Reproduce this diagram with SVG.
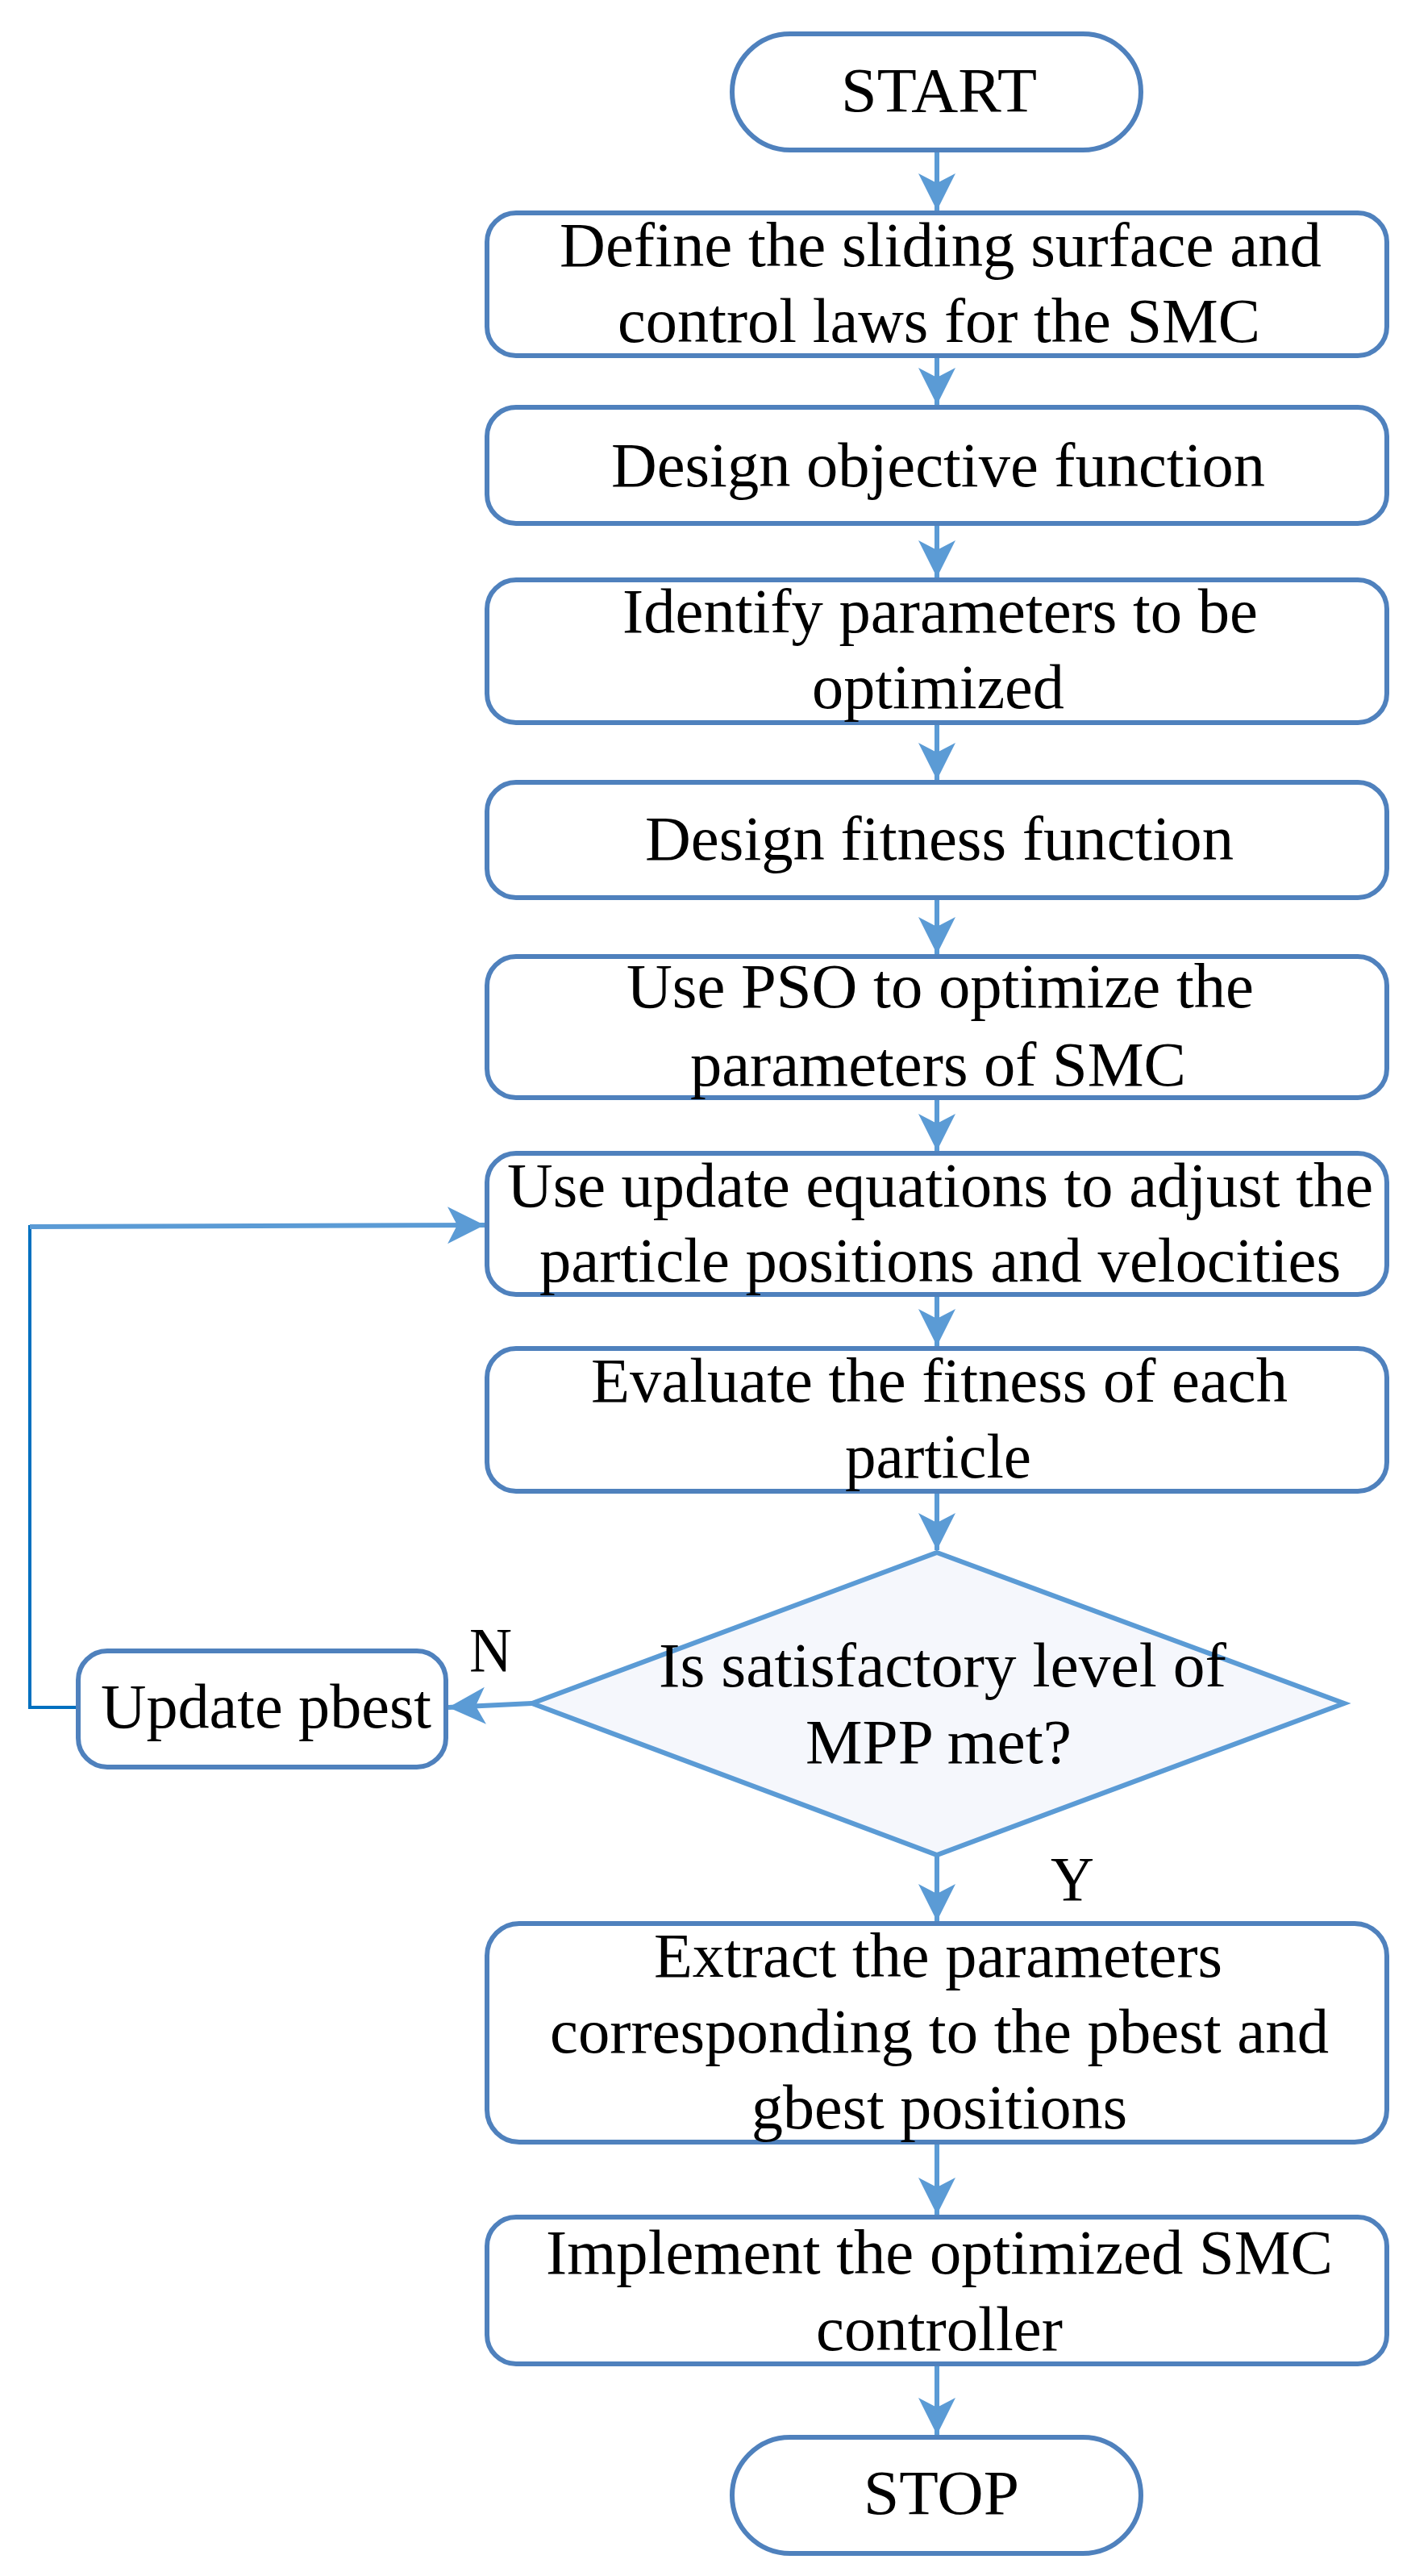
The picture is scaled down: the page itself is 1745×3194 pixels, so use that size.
<svg xmlns="http://www.w3.org/2000/svg" width="1745" height="3194" viewBox="0 0 1745 3194">
<style>
.b{fill:#fff;stroke:#4F81BD;stroke-width:6}
.t{font-family:"Liberation Serif",serif;font-size:78px;fill:#000}
.c{stroke:#5B9BD5;stroke-width:6;fill:none}
</style>
<defs>
<marker id="a" markerUnits="userSpaceOnUse" markerWidth="50" markerHeight="46" refX="46" refY="23" orient="auto">
<path d="M0,0 L46,23 L0,46 L12,23 Z" fill="#5B9BD5"/>
</marker>
</defs>
<g id="connectors">
<line class="c" x1="1162" y1="186" x2="1162" y2="261" marker-end="url(#a)"/>
<line class="c" x1="1162" y1="441" x2="1162" y2="502" marker-end="url(#a)"/>
<line class="c" x1="1162" y1="649" x2="1162" y2="716" marker-end="url(#a)"/>
<line class="c" x1="1162" y1="896" x2="1162" y2="967" marker-end="url(#a)"/>
<line class="c" x1="1162" y1="1113" x2="1162" y2="1183" marker-end="url(#a)"/>
<line class="c" x1="1162" y1="1361" x2="1162" y2="1427" marker-end="url(#a)"/>
<line class="c" x1="1162" y1="1605" x2="1162" y2="1669" marker-end="url(#a)"/>
<line class="c" x1="1162" y1="1849" x2="1162" y2="1922" marker-end="url(#a)"/>
<line class="c" x1="1162" y1="2300" x2="1162" y2="2382" marker-end="url(#a)"/>
<line class="c" x1="1162" y1="2656" x2="1162" y2="2746" marker-end="url(#a)"/>
<line class="c" x1="1162" y1="2931" x2="1162" y2="3019" marker-end="url(#a)"/>
<line class="c" x1="660" y1="2112" x2="556" y2="2117" marker-end="url(#a)"/>
<polyline points="97,2117 37,2117 37,1521 60,1521" fill="none" stroke="#0070C0" stroke-width="4"/>
<line class="c" x1="37" y1="1521" x2="601" y2="1519" marker-end="url(#a)"/>
<text class="t" x="582" y="2072" textLength="53" lengthAdjust="spacingAndGlyphs">N</text>
<text class="t" x="1303" y="2356" textLength="54" lengthAdjust="spacingAndGlyphs">Y</text>
</g>
<g id="start"><rect class="b" x="908" y="42" width="507" height="144" rx="72"/>
<text class="t" x="1043" y="138" textLength="243" lengthAdjust="spacingAndGlyphs">START</text></g>
<g id="n1"><rect class="b" x="604" y="264" width="1116" height="177" rx="36"/>
<text class="t" x="694" y="330" textLength="945" lengthAdjust="spacingAndGlyphs">Define the sliding surface and</text>
<text class="t" x="766" y="424" textLength="797" lengthAdjust="spacingAndGlyphs">control laws for the SMC</text></g>
<g id="n2"><rect class="b" x="604" y="505" width="1116" height="144" rx="36"/>
<text class="t" x="758" y="603" textLength="811" lengthAdjust="spacingAndGlyphs">Design objective function</text></g>
<g id="n3"><rect class="b" x="604" y="719" width="1116" height="177" rx="36"/>
<text class="t" x="772" y="784" textLength="788" lengthAdjust="spacingAndGlyphs">Identify parameters to be</text>
<text class="t" x="1007" y="878" textLength="313" lengthAdjust="spacingAndGlyphs">optimized</text></g>
<g id="n4"><rect class="b" x="604" y="970" width="1116" height="143" rx="36"/>
<text class="t" x="800" y="1066" textLength="730" lengthAdjust="spacingAndGlyphs">Design fitness function</text></g>
<g id="n5"><rect class="b" x="604" y="1186" width="1116" height="175" rx="36"/>
<text class="t" x="777" y="1249" textLength="778" lengthAdjust="spacingAndGlyphs">Use PSO to optimize the</text>
<text class="t" x="856" y="1346" textLength="615" lengthAdjust="spacingAndGlyphs">parameters of SMC</text></g>
<g id="n6"><rect class="b" x="604" y="1430" width="1116" height="175" rx="36"/>
<text class="t" x="629" y="1496" textLength="1074" lengthAdjust="spacingAndGlyphs">Use update equations to adjust the</text>
<text class="t" x="669" y="1589" textLength="994" lengthAdjust="spacingAndGlyphs">particle positions and velocities</text></g>
<g id="n7"><rect class="b" x="604" y="1672" width="1116" height="177" rx="36"/>
<text class="t" x="733" y="1738" textLength="864" lengthAdjust="spacingAndGlyphs">Evaluate the fitness of each</text>
<text class="t" x="1048" y="1832" textLength="231" lengthAdjust="spacingAndGlyphs">particle</text></g>
<g id="decision"><polygon points="1162,1925 1667,2112 1162,2300 660,2112" fill="#F5F7FC" stroke="#5B9BD5" stroke-width="6"/>
<text class="t" x="817" y="2091" textLength="704" lengthAdjust="spacingAndGlyphs">Is satisfactory level of</text>
<text class="t" x="999" y="2186" textLength="330" lengthAdjust="spacingAndGlyphs">MPP met?</text></g>
<g id="pbest"><rect class="b" x="97" y="2047" width="456" height="144" rx="36"/>
<text class="t" x="125" y="2142" textLength="410" lengthAdjust="spacingAndGlyphs">Update pbest</text></g>
<g id="n8"><rect class="b" x="604" y="2385" width="1116" height="271" rx="40"/>
<text class="t" x="811" y="2451" textLength="705" lengthAdjust="spacingAndGlyphs">Extract the parameters</text>
<text class="t" x="682" y="2545" textLength="966" lengthAdjust="spacingAndGlyphs">corresponding to the pbest and</text>
<text class="t" x="932" y="2639" textLength="466" lengthAdjust="spacingAndGlyphs">gbest positions</text></g>
<g id="n9"><rect class="b" x="604" y="2749" width="1116" height="182" rx="36"/>
<text class="t" x="677" y="2819" textLength="976" lengthAdjust="spacingAndGlyphs">Implement the optimized SMC</text>
<text class="t" x="1012" y="2914" textLength="306" lengthAdjust="spacingAndGlyphs">controller</text></g>
<g id="stop"><rect class="b" x="908" y="3022" width="507" height="144" rx="72"/>
<text class="t" x="1071" y="3117" textLength="193" lengthAdjust="spacingAndGlyphs">STOP</text></g>
</svg>
